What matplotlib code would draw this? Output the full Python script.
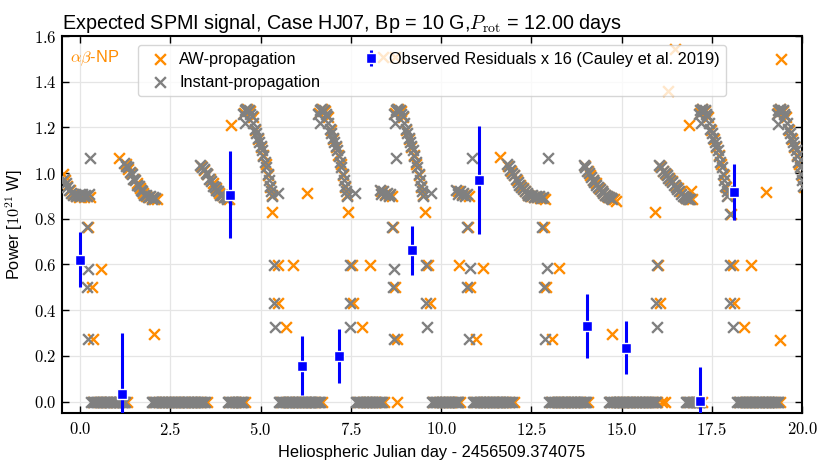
import numpy as np
import matplotlib
matplotlib.use("Agg")
import matplotlib.pyplot as plt
from matplotlib.ticker import FuncFormatter

plt.rcParams['font.family'] = ['Liberation Sans', 'DejaVu Sans']
plt.rcParams['mathtext.fontset'] = 'cm'

# ---------------- data ----------------
# Instant-propagation: times where the predicted power is zero
inst_zero_t = [
    0.31, 0.35, 0.39, 0.43, 0.47, 0.51, 0.55, 0.59, 0.63, 0.67, 0.71, 0.75, 0.79, 0.83, 0.87,
    0.91, 0.95, 0.99, 1.03, 1.07, 1.11, 1.15, 1.19, 1.22, 1.24,
    1.99, 2.03, 2.07, 2.11, 2.15, 2.19, 2.23, 2.27, 2.31, 2.35, 2.39, 2.43, 2.47, 2.51, 2.55,
    2.59, 2.63, 2.67, 2.71, 2.75, 2.79, 2.83, 2.87, 2.91, 2.95, 2.99, 3.03, 3.07, 3.11, 3.15,
    3.19, 3.23, 3.27, 3.31, 3.35, 3.39, 3.43, 3.46,
    4.09, 4.13, 4.17, 4.21, 4.25, 4.29, 4.33, 4.37, 4.41, 4.45, 4.49, 4.52,
    5.51, 5.55, 5.59, 5.63, 5.67, 5.71, 5.75, 5.79, 5.83, 5.87, 5.91, 5.95, 5.99, 6.03, 6.07,
    6.11, 6.15, 6.19, 6.23, 6.27, 6.31, 6.35, 6.39, 6.43, 6.47, 6.51, 6.55, 6.59, 6.63, 6.65,
    7.64, 7.68, 7.72, 7.76, 7.80, 7.84, 7.88, 7.92, 7.96, 8.00, 8.04, 8.08, 8.12, 8.16, 8.20,
    8.24, 8.28, 8.32, 8.36,
    9.74, 9.78, 9.82, 9.86, 9.90, 9.94, 9.98, 10.02, 10.06, 10.10, 10.14, 10.18, 10.22, 10.26,
    10.30, 10.34, 10.38, 10.42, 10.46, 10.48,
    10.88, 10.92, 10.96, 11.00, 11.04, 11.08, 11.12, 11.16, 11.20, 11.24, 11.28, 11.32, 11.36,
    11.40, 11.44, 11.48, 11.52, 11.56, 11.60, 11.64, 11.68, 11.72, 11.76, 11.80, 11.84, 11.88,
    11.92, 11.96,
    13.00, 13.04, 13.08, 13.12, 13.16, 13.20, 13.24, 13.28, 13.32, 13.36, 13.40, 13.44, 13.48,
    13.52, 13.56, 13.60, 13.64, 13.68, 13.72, 13.76, 13.80, 13.84, 13.88, 13.92, 13.96, 14.00, 14.03,
    14.64, 14.68, 14.72, 14.76, 14.80, 14.84, 14.88, 14.92, 14.96, 15.00, 15.04, 15.08, 15.12,
    15.16, 15.20, 15.24, 15.28, 15.32, 15.36, 15.40, 15.44, 15.48, 15.52, 15.56, 15.60, 15.64,
    15.68, 15.72, 15.76, 15.80, 15.84, 15.88, 15.92, 15.96,
    16.78, 16.82, 16.86, 16.90, 16.94, 16.98, 17.02, 17.06, 17.10, 17.14, 17.17,
    18.21, 18.25, 18.29, 18.33, 18.37, 18.41, 18.45, 18.49, 18.53, 18.57, 18.61, 18.65, 18.69,
    18.73, 18.77, 18.81, 18.85, 18.89, 18.93, 18.97, 19.01, 19.05, 19.09, 19.13, 19.17, 19.21,
    19.25, 19.29, 19.33, 19.34,
]

# Instant-propagation: non-zero points
inst_t = [
    # night near day 0
    -0.45, -0.40, -0.35, -0.30, -0.25, -0.20, -0.15, -0.10, -0.05, 0.00, 0.05, 0.10, 0.15, 0.20, 0.25,
    0.28, 0.20, 0.21, 0.20, 0.21,
    # decline 1.2-2.1
    1.22, 1.28, 1.33, 1.38, 1.43, 1.48, 1.53, 1.58, 1.63, 1.68, 1.73, 1.78, 1.83, 1.88, 1.93, 1.98, 2.03, 2.08,
    # decline 3.3-4.1
    3.33, 3.38, 3.43, 3.48, 3.53, 3.58, 3.63, 3.68, 3.73, 3.78, 3.83, 3.88, 3.93, 3.98, 4.03, 4.08,
    # arc A
    4.52, 4.56, 4.60, 4.64, 4.68, 4.72, 4.76, 4.80, 4.84, 4.88, 4.92, 4.96, 5.00, 5.04, 5.08, 5.12,
    5.16, 5.20, 5.23, 5.26, 5.29, 5.31, 4.57, 5.49,
    5.37, 5.37, 5.40,
    # arc B
    6.60, 6.64, 6.68, 6.72, 6.76, 6.80, 6.84, 6.88, 6.92, 6.96, 7.00, 7.04, 7.08, 7.12, 7.16, 7.20,
    7.24, 7.28, 7.31, 7.34, 7.37, 7.39, 6.65, 7.62,
    7.48, 7.48, 7.48,
    # flat 8.3-8.6
    8.30, 8.35, 8.40, 8.45, 8.50, 8.55, 8.60,
    8.63, 8.70, 8.67, 8.70, 8.74,
    # arc C
    8.70, 8.74, 8.78, 8.82, 8.86, 8.90, 8.94, 8.98, 9.02, 9.06, 9.10, 9.14, 9.18, 9.22, 9.26, 9.30,
    9.34, 9.38, 9.41, 9.44, 9.47, 9.49, 8.73, 9.72,
    9.58, 9.58, 9.60,
    # flat 10.4-10.7
    10.42, 10.47, 10.52, 10.57, 10.62, 10.67, 10.72,
    10.85, 10.71, 10.80, 10.73, 10.78,
    # decline 11.8-12.8
    11.82, 11.87, 11.92, 11.97, 12.02, 12.07, 12.12, 12.17, 12.22, 12.27, 12.32, 12.37, 12.42,
    12.47, 12.52, 12.57, 12.62, 12.67, 12.72, 12.77, 12.82,
    12.96, 12.80, 12.93, 12.85, 12.88,
    # decline 13.9-14.8
    13.95, 14.00, 14.05, 14.10, 14.15, 14.20, 14.25, 14.30, 14.35, 14.40, 14.45, 14.50, 14.55,
    14.60, 14.65, 14.70, 14.75,
    15.97, 15.95, 15.99,
    # decline 16.0-16.9
    16.05, 16.10, 16.15, 16.20, 16.25, 16.30, 16.35, 16.40, 16.45, 16.50, 16.55, 16.60, 16.65,
    16.70, 16.75, 16.80, 16.85, 16.90,
    # arc D
    17.14, 17.18, 17.22, 17.26, 17.30, 17.34, 17.38, 17.42, 17.46, 17.50, 17.54, 17.58, 17.62, 17.66,
    17.70, 17.74, 17.78, 17.82, 17.85, 17.88, 17.91, 17.93, 17.20, 18.00,
    18.00, 18.00, 18.10,
    # arc E
    19.30, 19.34, 19.38, 19.42, 19.46, 19.50, 19.54, 19.58, 19.62, 19.66, 19.70, 19.74, 19.78, 19.82,
    19.86, 19.90, 19.94, 19.98, 20.01, 20.04, 19.33,
]
inst_p = [
    0.975, 0.955, 0.94, 0.925, 0.915, 0.905, 0.91, 0.90, 0.905, 0.90, 0.91, 0.90, 0.905, 0.90, 0.91,
    1.065, 0.763, 0.582, 0.50, 0.272,
    1.045, 1.03, 1.025, 1.005, 0.995, 0.975, 0.97, 0.95, 0.945, 0.925, 0.92, 0.905, 0.905, 0.895, 0.90, 0.885, 0.895, 0.89,
    1.035, 1.025, 1.02, 1.00, 0.995, 0.975, 0.965, 0.945, 0.94, 0.925, 0.92, 0.905, 0.905, 0.895, 0.895, 0.885,
    1.26, 1.275, 1.28, 1.27, 1.275, 1.26, 1.25, 1.22, 1.195, 1.175, 1.155, 1.135, 1.12, 1.10, 1.075, 1.05,
    1.025, 0.995, 0.97, 0.945, 0.92, 0.90, 1.22, 0.915,
    0.596, 0.43, 0.328,
    1.26, 1.275, 1.28, 1.27, 1.275, 1.26, 1.25, 1.22, 1.195, 1.175, 1.155, 1.135, 1.12, 1.10, 1.075, 1.05,
    1.025, 0.995, 0.97, 0.945, 0.92, 0.90, 1.22, 0.915,
    0.596, 0.43, 0.328,
    0.925, 0.91, 0.92, 0.905, 0.915, 0.90, 0.91,
    0.763, 0.582, 0.50, 0.272, 1.066,
    1.26, 1.275, 1.28, 1.27, 1.275, 1.26, 1.25, 1.22, 1.195, 1.175, 1.155, 1.135, 1.12, 1.10, 1.075, 1.05,
    1.025, 0.995, 0.97, 0.945, 0.92, 0.90, 1.22, 0.915,
    0.596, 0.43, 0.328,
    0.925, 0.91, 0.92, 0.905, 0.915, 0.90, 0.91,
    1.066, 0.763, 0.583, 0.50, 0.272,
    1.04, 1.03, 1.015, 1.00, 0.99, 0.975, 0.96, 0.95, 0.94, 0.93, 0.92, 0.915, 0.905,
    0.90, 0.905, 0.895, 0.90, 0.895, 0.90, 0.89, 0.895,
    1.066, 0.763, 0.583, 0.50, 0.272,
    1.035, 1.025, 1.01, 1.00, 0.985, 0.97, 0.96, 0.95, 0.94, 0.93, 0.92, 0.915, 0.905,
    0.90, 0.895, 0.89, 0.885,
    0.596, 0.43, 0.328,
    1.035, 1.025, 1.01, 1.00, 0.99, 0.98, 0.97, 0.96, 0.95, 0.94, 0.93, 0.92, 0.91,
    0.90, 0.895, 0.89, 0.885, 0.885,
    1.26, 1.275, 1.28, 1.27, 1.275, 1.26, 1.25, 1.22, 1.195, 1.175, 1.155, 1.135, 1.12, 1.10,
    1.075, 1.05, 1.025, 0.995, 0.97, 0.945, 0.92, 0.90, 1.22, 0.82,
    0.596, 0.43, 0.328,
    1.26, 1.275, 1.28, 1.27, 1.275, 1.26, 1.25, 1.22, 1.195, 1.175, 1.155, 1.135, 1.12, 1.10,
    1.075, 1.05, 1.025, 0.995, 0.97, 0.945, 1.215,
]

# AW-propagation: times where the predicted power is zero
aw_zero_t = [
    0.36, 0.52, 0.68, 0.84, 1.00, 1.16, 1.29,
    2.04, 2.20, 2.36, 2.52, 2.68, 2.84, 3.00, 3.16, 3.32, 3.51,
    4.14, 4.30, 4.46, 4.57,
    5.56, 5.72, 5.88, 6.04, 6.20, 6.36, 6.52, 6.70,
    7.69, 7.85, 8.01, 8.17, 8.33, 8.41,
    8.77,
    9.79, 9.95, 10.11, 10.27, 10.43, 10.53,
    10.93, 11.09, 11.25, 11.41, 11.57, 11.73, 11.89, 12.01,
    13.05, 13.21, 13.37, 13.53, 13.69, 13.85, 14.08,
    14.69, 14.85, 15.01, 15.17, 15.33, 15.49, 15.65, 15.81, 15.97, 16.12, 16.20,
    16.83, 16.99, 17.15, 17.24,
    18.26, 18.42, 18.58, 18.74, 18.90, 19.06, 19.22, 19.39,
]

# AW-propagation: non-zero points
aw_t = [
    -0.48, -0.42, -0.36, -0.28, -0.20, -0.12, -0.04, 0.04, 0.12, 0.20, 0.28,
    0.23, 0.57, 0.33, 0.37, 1.07,
    1.26, 1.34, 1.42, 1.50, 1.58, 1.66, 1.74, 1.82, 1.90, 1.98, 2.06, 2.13,
    2.06,
    3.36, 3.44, 3.52, 3.60, 3.68, 3.76, 3.84, 3.92, 4.00, 4.08, 4.14,
    4.18,
    4.55, 4.62, 4.70, 4.78, 4.86, 4.93, 5.00, 5.07, 5.14, 5.21, 5.27, 5.32,
    5.31, 5.47, 5.91, 5.47, 5.71, 6.29,
    6.63, 6.70, 6.78, 6.86, 6.94, 7.01, 7.08, 7.15, 7.22, 7.29, 7.35, 7.40,
    7.43, 7.54, 8.03, 7.56, 7.82,
    8.35, 8.45, 8.55, 8.65,
    8.66, 8.73, 8.77, 8.39, 8.73,
    8.73, 8.80, 8.88, 8.96, 9.04, 9.11, 9.18, 9.25, 9.32, 9.39, 9.45, 9.50,
    9.56, 9.63, 9.70,
    10.47, 10.57, 10.67, 10.77,
    10.50, 11.15, 10.80, 10.96, 10.75, 11.63,
    11.86, 11.94, 12.02, 12.10, 12.18, 12.26, 12.34, 12.42, 12.50, 12.58, 12.66, 12.74, 12.82, 12.88,
    12.85, 13.27, 12.90, 13.07,
    13.98, 14.06, 14.14, 14.22, 14.30, 14.38, 14.46, 14.54, 14.62, 14.70, 14.78, 14.84,
    14.75,
    15.93, 16.00, 16.08,
    16.08, 16.16, 16.24, 16.32, 16.40, 16.48, 16.56, 16.64, 16.72, 16.80, 16.88, 16.94,
    16.92, 16.87, 16.29, 16.48,
    17.17, 17.24, 17.32, 17.40, 17.48, 17.55, 17.62, 17.69, 17.76, 17.83, 17.89, 17.94,
    18.02, 18.08, 18.60, 18.12, 18.40, 19.00, 19.39,
    19.33, 19.40, 19.48, 19.56, 19.64, 19.71, 19.78, 19.85, 19.92, 19.99, 20.05,
    19.42,
]
aw_p = [
    0.995, 0.97, 0.945, 0.925, 0.91, 0.90, 0.895, 0.90, 0.895, 0.90, 0.895,
    0.763, 0.582, 0.50, 0.272, 1.065,
    1.04, 1.02, 1.00, 0.975, 0.955, 0.935, 0.915, 0.90, 0.895, 0.89, 0.885, 0.885,
    0.297,
    1.03, 1.015, 0.995, 0.975, 0.955, 0.935, 0.915, 0.905, 0.895, 0.89, 0.885,
    1.21,
    1.265, 1.28, 1.27, 1.245, 1.19, 1.15, 1.115, 1.08, 1.04, 0.99, 0.94, 0.905,
    0.83, 0.596, 0.596, 0.43, 0.328, 0.915,
    1.265, 1.28, 1.27, 1.245, 1.19, 1.15, 1.115, 1.08, 1.04, 0.99, 0.94, 0.905,
    0.83, 0.596, 0.596, 0.43, 0.328,
    0.92, 0.91, 0.905, 0.90,
    0.763, 0.50, 0.272, 1.506, 1.506,
    1.265, 1.28, 1.27, 1.245, 1.19, 1.15, 1.115, 1.08, 1.04, 0.99, 0.94, 0.905,
    0.83, 0.596, 0.43,
    0.92, 0.91, 0.905, 0.90,
    0.598, 0.583, 0.50, 0.272, 0.763, 1.07,
    1.03, 1.01, 0.99, 0.97, 0.95, 0.935, 0.92, 0.905, 0.90, 0.895, 0.895, 0.89, 0.89, 0.885,
    0.763, 0.583, 0.50, 0.272,
    1.03, 1.01, 0.99, 0.97, 0.955, 0.935, 0.92, 0.905, 0.895, 0.89, 0.885, 0.88,
    0.294,
    0.83, 0.596, 0.43,
    1.03, 1.01, 0.995, 0.98, 0.965, 0.95, 0.935, 0.92, 0.90, 0.89, 0.885, 0.885,
    0.92, 1.21, 1.36, 1.543,
    1.265, 1.28, 1.27, 1.245, 1.19, 1.15, 1.115, 1.08, 1.04, 0.99, 0.94, 0.905,
    0.82, 0.596, 0.596, 0.43, 0.328, 0.918, 0.27,
    1.265, 1.28, 1.27, 1.245, 1.19, 1.15, 1.115, 1.08, 1.04, 0.99, 0.94,
    1.50,
]

# Observed residuals x 16 (Cauley et al. 2019)
obs_t = [0.01, 1.17, 4.15, 6.16, 7.18, 9.20, 11.04, 14.05, 15.12, 17.17, 18.12]
obs_p = [0.62, 0.035, 0.905, 0.157, 0.20, 0.662, 0.97, 0.33, 0.236, 0.003, 0.917]
obs_e = [0.12, 0.265, 0.19, 0.128, 0.118, 0.106, 0.235, 0.14, 0.115, 0.147, 0.123]

x_ticks = [0.0, 2.5, 5.0, 7.5, 10.0, 12.5, 15.0, 17.5, 20.0]
y_ticks = [0.0, 0.2, 0.4, 0.6, 0.8, 1.0, 1.2, 1.4, 1.6]

# ---------------- figure ----------------
fig = plt.figure(figsize=(8.30, 4.69), dpi=100)
ax = fig.add_axes([62 / 830, 1 - 413 / 469, 740 / 830, 377 / 469])

AW_COL = '#ff8c00'
INST_COL = '#808080'
MS = 60
LW = 1.7

aw_all_t = list(aw_zero_t) + list(aw_t)
aw_all_p = [0.0] * len(aw_zero_t) + list(aw_p)
inst_all_t = list(inst_zero_t) + list(inst_t)
inst_all_p = [0.0] * len(inst_zero_t) + list(inst_p)

ax.scatter(aw_all_t, aw_all_p, marker='x', s=MS, linewidths=LW, color=AW_COL,
           label='AW-propagation', zorder=2)
ax.scatter(inst_all_t, inst_all_p, marker='x', s=MS, linewidths=LW, color=INST_COL,
           label='Instant-propagation', zorder=3)
ax.errorbar(obs_t, obs_p, yerr=obs_e, fmt='s', color='#0000ff', ms=7.5, mec='white',
            mew=1.0, elinewidth=2.2, capsize=0, zorder=4,
            label='Observed Residuals x 16 (Cauley et al. 2019)')

ax.set_xlim(-0.5, 20.0)
ax.set_ylim(-0.05, 1.6)
ax.set_xticks(x_ticks)
ax.set_yticks(y_ticks)
fmt = FuncFormatter(lambda v, pos: r'$%.1f$' % v)
ax.xaxis.set_major_formatter(fmt)
ax.yaxis.set_major_formatter(fmt)
ax.tick_params(axis='both', which='major', direction='in', length=5, width=1.0,
               top=True, right=True, labelsize=12)
ax.tick_params(axis='x', pad=6)
ax.tick_params(axis='y', pad=4)
ax.grid(True, color='#e5e5e5', linewidth=0.9)
ax.set_axisbelow(True)
for s in ax.spines.values():
    s.set_linewidth(1.5)

ax.set_xlabel('Heliospheric Julian day - 2456509.374075', fontsize=11.8, labelpad=5)
ax.set_ylabel(r'Power [$10^{21}$ W]', fontsize=11.8, labelpad=6)
ax.set_title(r'Expected SPMI signal, Case HJ07, Bp = 10 G,$P_{\rm rot}$ = 12.00 days',
             fontsize=14.2, loc='left', x=0.0, pad=5)

ax.text(0.011, 0.942, r'$\alpha\beta$-NP', transform=ax.transAxes, color=AW_COL,
        fontsize=11.8, va='center', ha='left')

leg = ax.legend(loc='upper center', ncol=2, fontsize=11.8, framealpha=0.8,
                edgecolor='#cccccc', fancybox=True, columnspacing=2.07,
                handlelength=2.0, handletextpad=0.14, borderaxespad=0.55)

fig.savefig('out.png', dpi=100)
